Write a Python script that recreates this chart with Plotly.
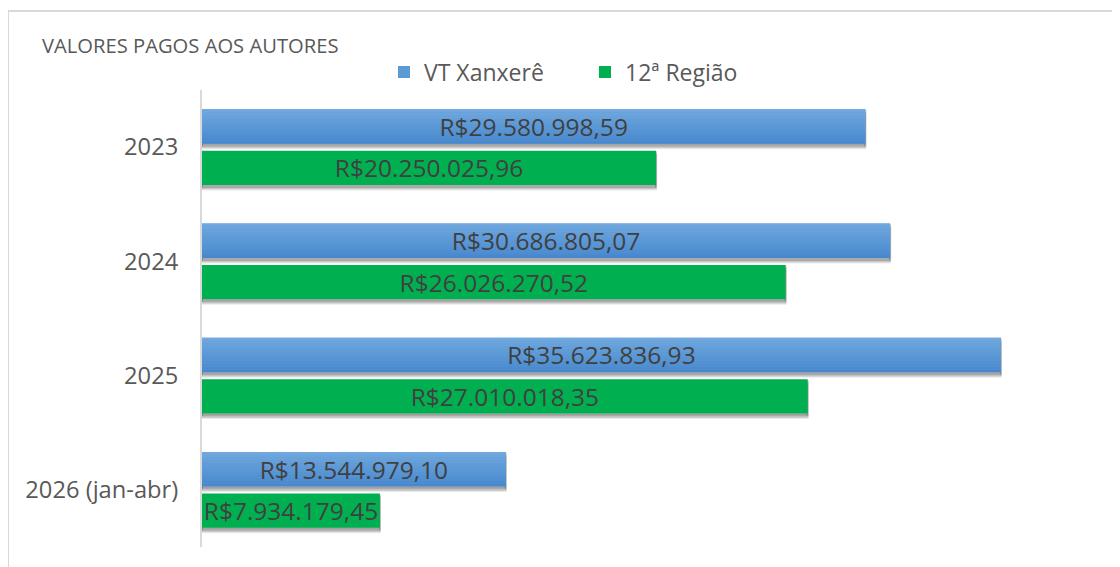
import plotly.graph_objects as go

# ---- data ----
categories = ["2023", "2024", "2025", "2026 (jan-abr)"]
vt_xanxere = [29580998.59, 30686805.07, 35623836.93, 13544979.10]
regiao_12 = [20250025.96, 26026270.52, 27010018.35, 7934179.45]
series_names = ["VT Xanxerê", "12ª Região"]
title_text = "VALORES PAGOS AOS AUTORES"


def brl(v):
    s = f"{v:,.2f}"
    return "R$" + s.replace(",", "X").replace(".", ",").replace("X", ".")


# ---- layout geometry (px) ----
OFF = 8  # page body margin
W, H = 1120, 567
L = 202 - OFF
T = 90 - OFF
R = W - (1099 - OFF)
B = H - (547 - OFF)
pw = W - L - R
ph = H - T - B
unit = ph / len(categories)


def u(px):
    return px / unit


def px_x(x_screen):
    return (x_screen - OFF - L) / pw


def px_y(y_screen):
    return (T + ph - (y_screen - OFF)) / ph


bar_h = u(34.3)
gap = u(7)
blue_off = -(gap / 2 + bar_h)
green_off = gap / 2

FONT = "Open Sans"
LABEL_SIZE = 24.5
fig = go.Figure()

# soft drop shadows
for sh, alpha in [(4.5, 0.08), (3, 0.12), (1.5, 0.12)]:
    for off, vals in [(blue_off, vt_xanxere), (green_off, regiao_12)]:
        fig.add_trace(go.Bar(
            y=categories, x=vals, orientation="h", width=bar_h, offset=off + u(sh),
            marker=dict(color=f"rgba(0,0,0,{alpha})",
                        line=dict(color=f"rgba(0,0,0,{alpha})", width=2)),
            showlegend=False, hoverinfo="skip"))

# blue series (legend entry)
fig.add_trace(go.Bar(
    y=categories, x=vt_xanxere, orientation="h", name=series_names[0],
    width=bar_h, offset=blue_off, marker=dict(color="#5b9bd5", line=dict(width=0)),
    hoverinfo="skip"))

# vertical gradient stripes for blue bars
n = 12
top = (0x70, 0xa8, 0xde)
bot = (0x48, 0x88, 0xce)
for i in range(n):
    t = i / (n - 1)
    c = tuple(round(top[k] + (bot[k] - top[k]) * t) for k in range(3))
    fig.add_trace(go.Bar(
        y=categories, x=vt_xanxere, orientation="h",
        width=bar_h / n * 1.02, offset=blue_off + i * bar_h / n,
        marker=dict(color=f"rgb{c}", line=dict(width=0)),
        showlegend=False, hoverinfo="skip"))

# text for blue bars
fig.add_trace(go.Bar(
    y=categories, x=vt_xanxere, orientation="h", width=bar_h, offset=blue_off,
    marker=dict(color="rgba(0,0,0,0)", line=dict(width=0)),
    text=[brl(v) for v in vt_xanxere], textposition="inside",
    insidetextanchor="middle", constraintext="none",
    insidetextfont=dict(family=FONT, size=LABEL_SIZE, color="#404040"),
    showlegend=False, hoverinfo="skip"))

# green series
fig.add_trace(go.Bar(
    y=categories, x=regiao_12, orientation="h", name=series_names[1],
    width=bar_h, offset=green_off, marker=dict(color="#00b050", line=dict(width=0)),
    text=[brl(v) for v in regiao_12], textposition="inside",
    insidetextanchor="middle", constraintext="none",
    insidetextfont=dict(family=FONT, size=LABEL_SIZE, color="#404040"),
    hoverinfo="skip"))

fig.update_layout(
    width=W, height=H,
    margin=dict(l=L, r=R, t=T, b=B),
    barmode="overlay",
    paper_bgcolor="white", plot_bgcolor="white",
    font=dict(family=FONT, color="#595959"),
    showlegend=True,
    legend=dict(orientation="h", x=px_x(384), xanchor="left",
                y=px_y(72), yanchor="middle",
                font=dict(family=FONT, size=23, color="#595959"),
                entrywidth=156, entrywidthmode="pixels",
                bgcolor="rgba(0,0,0,0)", traceorder="normal"),
    xaxis=dict(range=[0, 40e6], visible=False, showgrid=False, zeroline=False),
    yaxis=dict(type="category", autorange="reversed", showgrid=False, zeroline=False,
               showline=True, linecolor="#d9d9d9", linewidth=2, ticks="",
               tickfont=dict(family=FONT, size=23.7, color="#595959"),
               ticklabelstandoff=17),
    annotations=[dict(text=title_text, xref="paper", yref="paper",
                      x=px_x(40), y=px_y(45),
                      xanchor="left", yanchor="middle", showarrow=False,
                      font=dict(family=FONT, size=20.2, color="#595959"))],
    shapes=[dict(type="rect", xref="paper", yref="paper",
                 x0=px_x(8), x1=1.3, y0=-0.3, y1=px_y(11),
                 line=dict(color="#d9d9d9", width=2), fillcolor="rgba(0,0,0,0)",
                 layer="below")],
)

fig.write_html("out.html")
